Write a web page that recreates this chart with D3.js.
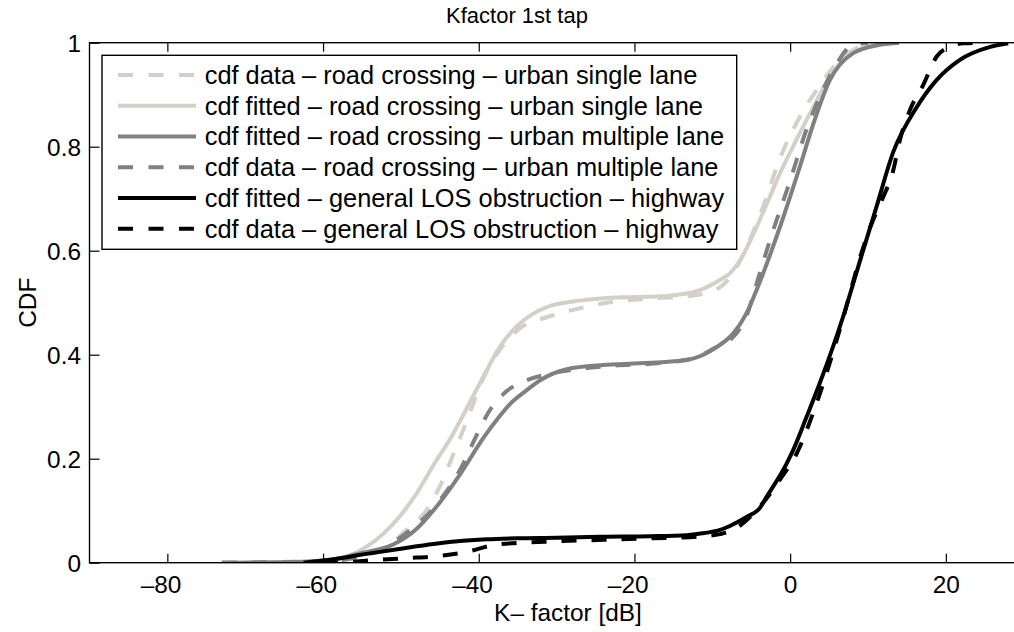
<!DOCTYPE html>
<html>
<head>
<meta charset="utf-8">
<script src="https://cdn.jsdelivr.net/npm/d3@7"></script>
<style>
  html, body { margin: 0; padding: 0; background: #fff; }
  svg { display: block; overflow: hidden; }
  text { font-family: "Liberation Sans", Arial, Helvetica, sans-serif; fill: #000; }
</style>
</head>
<body>
<svg id="chart" width="1014" height="632"></svg>
<script>
// ---------- data ----------
const titleText = "Kfactor 1st tap";
const xLabelText = "K\u2013 factor [dB]";
const yLabelText = "CDF";
const xTicks = [-80, -60, -40, -20, 0, 20];
const yTicks = [0, 0.2, 0.4, 0.6, 0.8, 1];
const yTickLabels = ["0", "0.2", "0.4", "0.6", "0.8", "1"];

const seriesNames = [
  "cdf data \u2013 road crossing \u2013 urban single lane",
  "cdf fitted \u2013 road crossing \u2013 urban single lane",
  "cdf fitted \u2013 road crossing \u2013 urban multiple lane",
  "cdf data \u2013 road crossing \u2013 urban multiple lane",
  "cdf fitted \u2013 general LOS obstruction \u2013 highway",
  "cdf data \u2013 general LOS obstruction \u2013 highway"
];

// light gray, data
const lgdX = [-73, -60, -55, -51.8, -49.3, -46.7, -44.8, -43.3, -42, -41.1, -39.5, -37.5, -34.6, -31.3, -27.4, -23.6, -18, -12, -9, -7, -5.5, -4.3, -3, -1.7, 1.26, 3.4, 6, 8, 10, 12];
const lgdY = [0, 0.002, 0.012, 0.031, 0.063, 0.101, 0.153, 0.207, 0.255, 0.29, 0.352, 0.405, 0.452, 0.472, 0.488, 0.5, 0.508, 0.515, 0.53, 0.565, 0.61, 0.653, 0.704, 0.762, 0.858, 0.909, 0.96, 0.985, 0.996, 1];
// light gray, fitted
const lgfX = [-73, -62, -58, -54.4, -50.1, -47.9, -45.8, -43.6, -41.5, -39.4, -37.3, -35.1, -33, -30.8, -27, -24.4, -20, -15.9, -11.6, -9, -7.7, -6.4, -4.7, -3, -1.3, 0.8, 3, 5.1, 7.3, 9.8, 12, 14];
const lgfY = [0, 0.002, 0.008, 0.031, 0.09, 0.135, 0.188, 0.24, 0.298, 0.358, 0.415, 0.455, 0.479, 0.494, 0.504, 0.508, 0.511, 0.513, 0.524, 0.544, 0.557, 0.582, 0.633, 0.69, 0.749, 0.813, 0.877, 0.935, 0.973, 0.992, 0.999, 1];
// mid gray, fitted
const mgfX = [-73, -62.5, -58, -55.3, -51, -48, -45.8, -42.4, -39.4, -37.3, -36, -34, -32.1, -28.7, -24, -20.1, -16, -12.4, -9.4, -7.3, -5.6, -4.3, -1.3, 1.26, 3, 5.1, 8.1, 11.5, 14];
const mgfY = [0, 0.002, 0.008, 0.018, 0.035, 0.065, 0.101, 0.17, 0.24, 0.282, 0.305, 0.33, 0.351, 0.372, 0.38, 0.383, 0.386, 0.393, 0.415, 0.441, 0.48, 0.525, 0.646, 0.762, 0.845, 0.928, 0.98, 0.996, 1];
// mid gray, data
const mgdX = [-73, -60, -55, -52, -49.3, -45.8, -42, -40.5, -38.8, -36.4, -34, -31, -24.4, -16, -12.4, -9.4, -7.7, -5.6, -3.9, -2.6, 0, 2.1, 4.2, 6, 7.7, 10];
const mgdY = [0, 0.003, 0.012, 0.03, 0.057, 0.105, 0.19, 0.238, 0.288, 0.33, 0.35, 0.363, 0.377, 0.385, 0.393, 0.415, 0.428, 0.475, 0.557, 0.62, 0.735, 0.833, 0.909, 0.96, 0.992, 1];
// black, fitted
const bfX = [-62.5, -58, -54.4, -50, -45.8, -42, -39, -35, -30, -24.4, -18, -13.3, -11, -9, -7.3, -5.6, -3.9, -3, -0.44, 0.4, 2.1, 3.8, 6.8, 9, 11.1, 13.25, 16.3, 18.8, 21.8, 25.7, 28];
const bfY = [0, 0.008, 0.017, 0.027, 0.036, 0.042, 0.045, 0.047, 0.048, 0.05, 0.051, 0.053, 0.057, 0.063, 0.074, 0.088, 0.105, 0.127, 0.191, 0.217, 0.28, 0.345, 0.473, 0.582, 0.685, 0.79, 0.877, 0.928, 0.967, 0.992, 0.999];
// black, data
const bdX = [-60, -58.7, -53.5, -49, -45.8, -41.5, -38.1, -35, -30.4, -24, -17.6, -12, -9, -7.3, -4.7, -2.2, -1.3, 0.84, 3, 6.8, 9, 10.3, 11.8, 13.25, 14.1, 15.4, 17.1, 18.8, 20.5, 22.2, 25];
const bdY = [0, 0, 0.005, 0.009, 0.012, 0.021, 0.034, 0.038, 0.041, 0.044, 0.047, 0.05, 0.055, 0.063, 0.095, 0.14, 0.16, 0.21, 0.29, 0.47, 0.588, 0.646, 0.698, 0.755, 0.813, 0.871, 0.919, 0.973, 0.992, 0.999, 1];

const seriesX = [lgdX, lgfX, mgfX, mgdX, bfX, bdX];
const seriesY = [lgdY, lgfY, mgfY, mgdY, bfY, bdY];
const seriesColor = ["#d4d0c8", "#d4d0c8", "#808080", "#808080", "#000000", "#000000"];
const seriesDashed = [true, false, false, true, false, true];

// ---------- layout ----------
const svg = d3.select("#chart");
const x = d3.scaleLinear().domain([-90, 30]).range([89.5, 1023.7]);
const y = d3.scaleLinear().domain([0, 1]).range([562.7, 42.7]);
const FS = 24.4;
const LFS = 25.4;

svg.append("defs").append("clipPath").attr("id", "clip")
  .append("rect")
  .attr("x", x(-90)).attr("y", y(1))
  .attr("width", x(30) - x(-90)).attr("height", y(0) - y(1));

// curves
const line = d3.line().curve(d3.curveMonotoneX);
const gLines = svg.append("g").attr("clip-path", "url(#clip)");
seriesX.forEach((xs, i) => {
  const pts = xs.map((v, k) => [x(v), y(seriesY[i][k])]);
  gLines.append("path")
    .attr("d", line(pts))
    .attr("fill", "none")
    .attr("stroke", seriesColor[i])
    .attr("stroke-width", 4)
    .attr("stroke-linejoin", "round")
    .attr("stroke-dasharray", seriesDashed[i] ? "15,15" : null);
});

// frame
svg.append("rect")
  .attr("x", x(-90)).attr("y", y(1))
  .attr("width", x(30) - x(-90)).attr("height", y(0) - y(1))
  .attr("fill", "none").attr("stroke", "#000").attr("stroke-width", 1.4);

// bottom axis (digits centred on the tick, minus sign hanging left)
const gx = svg.append("g").attr("transform", `translate(0,${y(0)})`)
  .call(d3.axisBottom(x).tickValues(xTicks).tickSizeInner(-9).tickSizeOuter(0)
    .tickFormat(d => d < 0 ? "\u2013" + Math.abs(d) : String(d)));
gx.select(".domain").remove();
gx.selectAll(".tick line").attr("stroke", "#000").attr("stroke-width", 1.2);
gx.selectAll(".tick text").attr("y", 30.5).attr("dy", 0).attr("font-size", FS).attr("fill", "#000")
  .attr("dx", d => d < 0 ? -0.278 * FS : 0)
  .style("font-family", "'Liberation Sans', Arial, sans-serif");

// top ticks
const gt = svg.append("g").attr("transform", `translate(0,${y(1)})`)
  .call(d3.axisTop(x).tickValues(xTicks).tickSizeInner(-9).tickSizeOuter(0).tickFormat(""));
gt.select(".domain").remove();
gt.selectAll(".tick line").attr("stroke", "#000").attr("stroke-width", 1.2);

// left axis
const gy = svg.append("g").attr("transform", `translate(${x(-90)},0)`)
  .call(d3.axisLeft(y).tickValues(yTicks).tickSizeInner(-10).tickSizeOuter(0)
    .tickPadding(8.5).tickFormat((d, i) => yTickLabels[i]));
gy.select(".domain").remove();
gy.selectAll(".tick line").attr("stroke", "#000").attr("stroke-width", 1.2);
gy.selectAll(".tick text").attr("font-size", FS).attr("fill", "#000").attr("dy", "0.35em")
  .style("font-family", "'Liberation Sans', Arial, sans-serif");

// title & labels
svg.append("text").attr("x", 517).attr("y", 23).attr("text-anchor", "middle")
  .attr("font-size", 22).text(titleText);
svg.append("text").attr("x", 568).attr("y", 621).attr("text-anchor", "middle")
  .attr("font-size", FS).text(xLabelText);
svg.append("text").attr("transform", `translate(36,${(y(0) + y(1)) / 2}) rotate(-90)`)
  .attr("text-anchor", "middle").attr("font-size", FS).text(yLabelText);

// legend
const lg = svg.append("g");
lg.append("rect").attr("x", 102).attr("y", 55.3).attr("width", 634.7).attr("height", 194)
  .attr("fill", "#fff").attr("stroke", "#000").attr("stroke-width", 1.4);
seriesNames.forEach((name, i) => {
  const cy = 75 + i * 30.75;
  lg.append("line").attr("x1", 118).attr("x2", 196).attr("y1", cy).attr("y2", cy)
    .attr("stroke", seriesColor[i]).attr("stroke-width", 4)
    .attr("stroke-dasharray", seriesDashed[i] ? "15,15.5" : null);
  lg.append("text").attr("x", 204.7).attr("y", cy).attr("dy", "0.35em")
    .attr("font-size", LFS).text(name);
});
</script>
</body>
</html>
